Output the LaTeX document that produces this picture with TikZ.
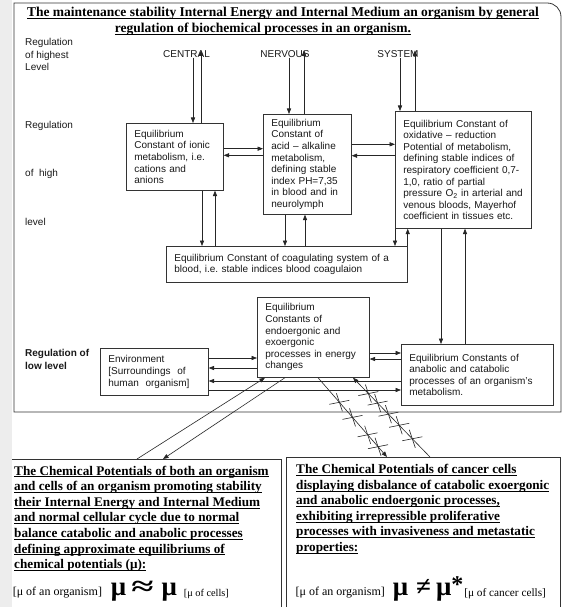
\documentclass[tikz,border=0pt]{standalone}
\usepackage{fontspec}
\usepackage{graphicx}
\setmainfont{Liberation Serif}
\setsansfont{Liberation Sans}
\usetikzlibrary{arrows.meta}

% underline drawn just below the baseline, crossing the descenders
\newcommand\ulbox[1]{\setbox0\hbox{#1}\rlap{\rule[-2.2pt]{\wd0}{0.8pt}}\box0}
% sizes used in the two formulas
\newcommand\smalltxt{\fontsize{12}{14}\selectfont}
\newcommand\bigsym{\fontsize{27}{27}\selectfont\bfseries}

\begin{document}
\begin{tikzpicture}[x=1pt,y=-1pt,
  box/.style={draw=black!80, line width=0.7pt, fill=white, text=black!90,
    font=\sffamily\fontsize{10}{11.6}\selectfont, align=left,
    inner xsep=8pt, inner ysep=0pt, anchor=north west},
  panel/.style={anchor=north west, inner sep=0pt},
  frame/.style={draw=black!80, line width=0.8pt},
  link/.style={draw=black!85, line width=0.6pt, -{Triangle[length=5.5pt,width=4.2pt]}},
  thinline/.style={draw=black!85, line width=0.6pt},
  lbl/.style={font=\sffamily\fontsize{10}{12.5}\selectfont, text=black!90, align=left, anchor=west, inner sep=0pt},
  toplbl/.style={font=\sffamily\fontsize{10}{12}\selectfont, text=black!90, inner sep=0pt},
  title/.style={font=\bfseries\fontsize{13.5}{16}\selectfont, inner sep=0pt},
  bigtext/.style={font=\bfseries\fontsize{13.2}{15.6}\selectfont, align=left, anchor=north west, inner sep=0pt},
  xmark/.pic={\draw[thinline] (-10,2) -- (10,-2) (-3,-9) -- (3,9);}
]
\useasboundingbox (0,0) rectangle (565,607);
\fill[white] (0,0) rectangle (565,607);
\fill[black!7] (0,0) rectangle (12,607);

% outer frame with one rounded corner
\draw[frame] (561,412) -- (14,412) -- (14,3) -- (547,3) .. controls (555,3) and (561,9) .. (561,17) -- cycle;

% heading
\node[title] (title1) at (283,13) {\ulbox{The maintenance stability Internal Energy and Internal Medium an organism by general}};
\node[title] (title2) at (263,29) {\ulbox{regulation of biochemical processes in an organism.}};

% level labels
\node[lbl] (lvltop) at (25,54.5) {Regulation\\of highest\\Level};
\node[lbl] (lvlhigha) at (25,126) {Regulation};
\node[lbl] (lvlhighb) at (25,174) {of\ \ high};
\node[lbl] (lvlhighc) at (25,222) {level};
\node[lbl, font=\sffamily\bfseries\fontsize{10}{12.5}\selectfont] (lvllow) at (25,359.5) {Regulation of\\low level};

% central nervous system
\node[toplbl] (central) at (186.5,54) {CENTRAL};
\node[toplbl] (nervous) at (285,54) {NERVOUS};
\node[toplbl] (system) at (398,54) {SYSTEM};

% boxes of the high level
\node[box, minimum width=97pt, minimum height=67pt, text width=81pt] (ionic) at (126,123)
  {Equilibrium\\Constant of ionic\\metabolism, i.e.\\cations and\\anions};
\node[box, minimum width=88pt, minimum height=100pt, text width=72pt] (acid) at (263,114)
  {Equilibrium\\Constant of\\acid – alkaline\\metabolism,\\defining stable\\index PH=7,35\\in blood and in\\neurolymph};
\node[box, minimum width=136pt, minimum height=117pt, text width=120pt] (redox) at (395,111)
  {Equilibrium Constant of\\oxidative – reduction\\Potential of metabolism,\\defining stable indices of\\respiratory coefficient 0,7-\\1,0, ratio of partial\\pressure O\textsubscript{2} in arterial and\\venous bloods, Mayerhof\\coefficient in tissues etc.};
\node[box, minimum width=241pt, minimum height=36pt, text width=225pt] (coag) at (166,246)
  {Equilibrium Constant of coagulating system of a\\blood, i.e.\ stable indices blood coagulaion};

% boxes of the low level
\node[box, minimum width=112pt, minimum height=80pt, text width=96pt] (energy) at (257,297)
  {Equilibrium\\Constants of\\endoergonic and\\exoergonic\\processes in energy\\changes};
\node[box, minimum width=108pt, minimum height=47pt, text width=92pt] (env) at (100,348)
  {Environment\\{}[Surroundings\ \ of\\human\ \ organism]};
\node[box, minimum width=152pt, minimum height=61pt, text width=136pt] (anab) at (401,344)
  {Equilibrium Constants of\\anabolic and catabolic\\processes of an organism’s\\metabolism.};

% nervous system <-> high-level boxes
\draw[link] (central.south -| 193,0) -- (ionic.north -| 193,0);
\draw[link] (ionic.north -| 201,0) -- (central.north -| 201,0);
\draw[link] (nervous.south -| 289,0) -- (acid.north -| 289,0);
\draw[link] (acid.north -| 304,0) -- (nervous.north -| 304,0);
\draw[link] (system.south -| 400,0) -- (redox.north -| 400,0);
\draw[link] (redox.north -| 415,0) -- (system.north -| 415,0);

% side links among the high-level boxes
\draw[link] (ionic.east |- 0,148.7) -- (acid.west |- 0,148.7);
\draw[link] (acid.west |- 0,155.3) -- (ionic.east |- 0,155.3);
\draw[link] (acid.east |- 0,144.3) -- (redox.west |- 0,144.3);
\draw[link] (redox.west |- 0,155.7) -- (acid.east |- 0,155.7);

% high-level boxes <-> coagulation
\draw[link] (ionic.south -| 202,0) -- (coag.north -| 202,0);
\draw[link] (coag.north -| 215,0) -- (ionic.south -| 215,0);
\draw[link] (acid.south -| 285,0) -- (coag.north -| 285,0);
\draw[link] (coag.north -| 305,0) -- (acid.south -| 305,0);
\draw[link] (redox.south west) -- (coag.north -| redox.south west);
\draw[link] (coag.north east) -- (redox.south -| coag.north east);

% redox <-> anabolic/catabolic
\draw[link] (redox.south -| 441,0) -- (anab.north -| 441,0);
\draw[link] (anab.north -| 465,0) -- (redox.south -| 465,0);

% low level links
\draw[link] (energy.east |- 0,353) -- (anab.west |- 0,353);
\draw[link] (anab.west |- 0,359) -- (energy.east |- 0,359);
\draw[link] (env.east |- 0,358) -- (energy.west |- 0,358);
\draw[link] (energy.west |- 0,368) -- (env.east |- 0,368);
\draw[link] (anab.west |- 0,381) -- (env.east |- 0,381);
\draw[link] (env.east |- 0,390) -- (anab.west |- 0,390);

% chemical potential panels (they run on below the lower edge)
\node[panel, minimum width=269pt, minimum height=170pt] (normal) at (12,459) {};
\node[panel, minimum width=274pt, minimum height=170pt] (cancer) at (286,457) {};
\draw[frame] (normal.north west) -- (normal.north east) -- (normal.south east);
\draw[frame] (cancer.south west) -- (cancer.north west) -- (cancer.north east) -- (cancer.south east);

\node[bigtext] (normaltext) at (14,465.5)
  {\ulbox{The Chemical Potentials of both an organism}\\
   \ulbox{and cells of an organism promoting stability}\\
   \ulbox{their Internal Energy and Internal Medium}\\
   \ulbox{and normal cellular cycle due to normal}\\
   \ulbox{balance catabolic and anabolic processes}\\
   \ulbox{defining approximate equilibriums of}\\
   \ulbox{chemical potentials (μ):}};
\node[bigtext] (cancertext) at (296,464)
  {\ulbox{The Chemical Potentials of cancer cells}\\
   \ulbox{displaying disbalance of catabolic exoergonic}\\
   \ulbox{and anabolic endoergonic processes,}\\
   \ulbox{exhibiting irrepressible proliferative}\\
   \ulbox{processes with invasiveness and metastatic}\\
   \ulbox{properties:}};

\node[anchor=base west, inner sep=0pt] (muleft) at (12.6,595)
  {{\smalltxt[μ of an organism]}\hspace{9pt}{\bigsym μ}\hspace{5pt}{\bigsym\scalebox{1.5}[1]{≈}}\hspace{8pt}{\bigsym μ}\hspace{7pt}\raisebox{-1pt}{\fontsize{10.3}{12}\selectfont[μ of cells]}};
\node[anchor=base west, inner sep=0pt] (muright) at (295.5,595)
  {{\smalltxt[μ of an organism]}\hspace{8pt}{\bigsym μ}\hspace{8pt}{\bigsym ≠}\hspace{5pt}{\bigsym μ}\raisebox{3pt}{\fontsize{24}{24}\selectfont\bfseries *}\hspace{1pt}\raisebox{-1pt}{\fontsize{11.3}{13}\selectfont[μ of cancer cells]}};

% energy box <-> normal panel
\draw[link] (normal.north -| 137,0) -- (energy.south -| 265,0);
\draw[link] (energy.south -| 285,0) -- (normal.north -| 163,0);

% energy box <-> cancer panel, crossed out
\draw[link] (energy.south -| 318,0) -- (cancer.north -| 387,0);
\draw[link] (cancer.north -| 430,0) -- (energy.south -| 353,0);
\path (energy.south -| 318,0) -- (cancer.north -| 387,0)
  coordinate[pos=.31] (ra1) coordinate[pos=.5] (ra2) coordinate[pos=.72] (ra3) coordinate[pos=.87] (ra4);
\path (energy.south -| 353,0) -- (cancer.north -| 430,0)
  coordinate[pos=.2] (rb1) coordinate[pos=.32] (rb2) coordinate[pos=.46] (rb3) coordinate[pos=.6] (rb4) coordinate[pos=.77] (rb5);
\foreach \m in {ra1,ra2,ra3,ra4,rb1,rb2,rb3,rb4,rb5} \pic at (\m) {xmark};
\end{tikzpicture}
\end{document}
